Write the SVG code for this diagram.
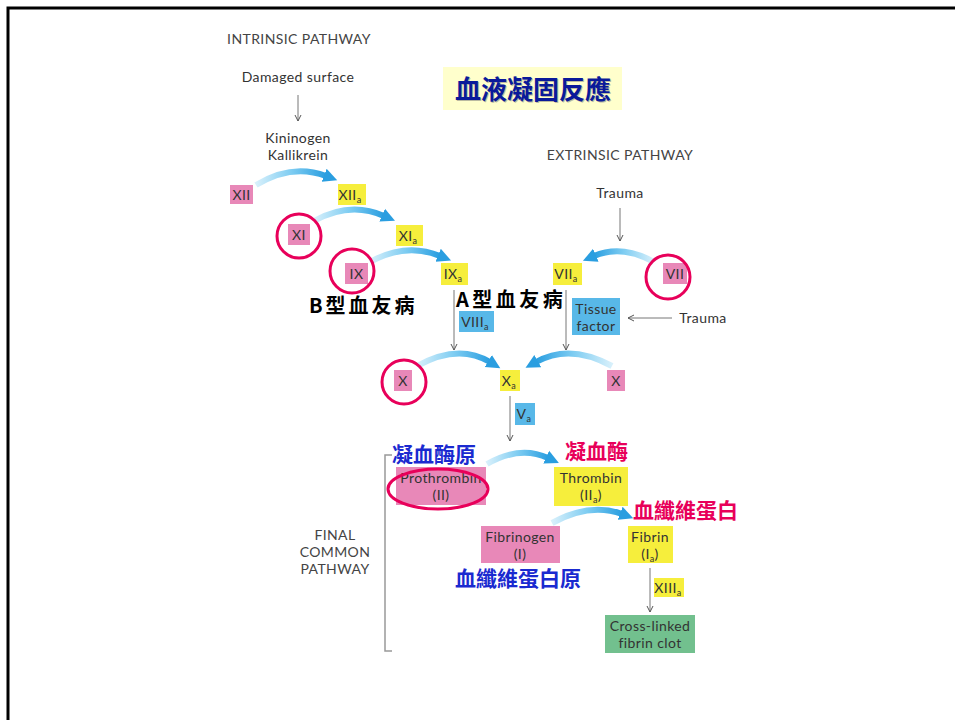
<svg xmlns="http://www.w3.org/2000/svg" width="955" height="720" viewBox="0 0 955 720">
<style>
.t{font-family:Lato,"Open Sans",sans-serif;font-size:14px;letter-spacing:0.4px;fill:#333;text-anchor:middle}
.h{font-family:Lato,"Open Sans",sans-serif;font-size:14px;letter-spacing:0.4px;fill:#444;text-anchor:middle}
.pk{fill:#e888b8}
.yl{fill:#f6ee3c}
.bl{fill:#58b8e8}
.gr{fill:#72c08e}
.ring{fill:none;stroke:#e8005a;stroke-width:3}
.ba{fill:none;stroke:url(#gR);stroke-width:6;marker-end:url(#bh)}
.bar{fill:none;stroke:url(#gL);stroke-width:6;marker-end:url(#bh)}
.ga{fill:none;stroke:#777;stroke-width:1;marker-end:url(#gh)}
.cjk{font-family:"Noto Sans CJK TC","Noto Sans CJK SC",sans-serif;font-weight:bold}
.sub{font-size:9px}
</style>
<defs>
<linearGradient id="gR" x1="0" y1="0" x2="1" y2="0"><stop offset="0" stop-color="#d8f0fb"/><stop offset="0.5" stop-color="#7fcdf2"/><stop offset="1" stop-color="#2a9ee0"/></linearGradient>
<linearGradient id="gL" x1="1" y1="0" x2="0" y2="0"><stop offset="0" stop-color="#d8f0fb"/><stop offset="0.5" stop-color="#7fcdf2"/><stop offset="1" stop-color="#2a9ee0"/></linearGradient>
<marker id="bh" markerUnits="userSpaceOnUse" markerWidth="16" markerHeight="16" refX="2" refY="8" orient="auto"><path d="M0,1 L14,8 L0,15 Z" fill="#2a9ee0"/></marker>
<marker id="gh" markerUnits="userSpaceOnUse" markerWidth="8" markerHeight="8" refX="6" refY="4" orient="auto"><path d="M0,1 L6,4 L0,7" fill="none" stroke="#555" stroke-width="1"/></marker>
</defs>
<rect width="955" height="720" fill="#fff"/>
<path d="M8,720 V8 H955" fill="none" stroke="#000" stroke-width="3"/>

<g id="connectors">
<path class="ba" d="M256,185 Q292,163 326,176"/>
<path class="ba" d="M314,221 Q350,201 384,216"/>
<path class="ba" d="M370,262 Q406,242 440,256"/>
<path class="bar" d="M654,262 Q622,244 594,256"/>
<path class="ba" d="M417,366 Q458,343 490,362"/>
<path class="bar" d="M612,366 Q570,343 536,362"/>
<path class="ba" d="M487,464 Q520,445 548,458"/>
<path class="ba" d="M552,523 Q590,502 622,514"/>
<line class="ga" x1="298" y1="95" x2="298" y2="121"/>
<line class="ga" x1="620" y1="208" x2="620" y2="241"/>
<line class="ga" x1="672" y1="318" x2="628" y2="318"/>
<line class="ga" x1="454" y1="290" x2="454" y2="350"/>
<line class="ga" x1="566" y1="290" x2="566" y2="350"/>
<line class="ga" x1="510" y1="396" x2="510" y2="441"/>
<line class="ga" x1="650" y1="568" x2="650" y2="612"/>
<path d="M392,455 H385 V651 H392" fill="none" stroke="#999" stroke-width="1.5"/>
</g>

<g id="labels">
<text class="h" x="299" y="44">INTRINSIC PATHWAY</text>
<text class="t" x="298" y="82">Damaged surface</text>
<text class="t" x="298" y="143">Kininogen</text>
<text class="t" x="298" y="160">Kallikrein</text>
<text class="h" x="620" y="160">EXTRINSIC PATHWAY</text>
<text class="t" x="620" y="198">Trauma</text>
<text class="t" x="703" y="323">Trauma</text>
<text class="h" x="335" y="540">FINAL</text>
<text class="h" x="335" y="557">COMMON</text>
<text class="h" x="335" y="574">PATHWAY</text>
</g>

<g id="title">
<rect x="443" y="67" width="179" height="43" fill="#ffffcc"/>
<text class="cjk" x="534" y="100" font-size="26" fill="#777" text-anchor="middle" opacity="0.5">血液凝固反應</text>
<text class="cjk" x="533" y="99" font-size="26" fill="#0a1a9a" text-anchor="middle">血液凝固反應</text>
</g>

<g id="XII"><rect class="pk" x="230" y="185" width="23" height="19"/><text class="t" x="241.5" y="200">XII</text></g>
<g id="XIIa"><rect class="yl" x="338" y="184" width="28" height="21"/><text class="t" x="350" y="200">XII<tspan class="sub" dy="3">a</tspan></text></g>
<g id="XI"><rect class="pk" x="288" y="224" width="22" height="21"/><text class="t" x="299" y="240">XI</text><circle class="ring" cx="299" cy="236" r="22"/></g>
<g id="XIa"><rect class="yl" x="396" y="225" width="27" height="21"/><text class="t" x="408" y="241">XI<tspan class="sub" dy="3">a</tspan></text></g>
<g id="IX"><rect class="pk" x="345" y="263" width="23" height="21"/><text class="t" x="356.5" y="279">IX</text><circle class="ring" cx="352" cy="271" r="22"/></g>
<g id="IXa"><rect class="yl" x="441" y="263" width="27" height="22"/><text class="t" x="453" y="279">IX<tspan class="sub" dy="3">a</tspan></text></g>
<g id="VIIa"><rect class="yl" x="553" y="263" width="29" height="22"/><text class="t" x="566" y="279">VII<tspan class="sub" dy="3">a</tspan></text></g>
<g id="VII"><rect class="pk" x="663" y="263" width="24" height="21"/><text class="t" x="675" y="279">VII</text><circle class="ring" cx="668" cy="277" r="22"/></g>
<g id="hemoB"><text class="cjk" x="309" y="313" font-size="20" fill="#000" letter-spacing="3">B型血友病</text></g>
<g id="hemoA"><text class="cjk" x="456" y="307" font-size="20" fill="#000" letter-spacing="3.5">A型血友病</text></g>
<g id="VIIIa"><rect class="bl" x="459" y="311" width="35" height="21"/><text class="t" x="475" y="327">VIII<tspan class="sub" dy="3">a</tspan></text></g>
<g id="TissueFactor"><rect class="bl" x="572" y="298" width="48" height="37"/><text class="t" x="596" y="314">Tissue</text><text class="t" x="596" y="331">factor</text></g>
<g id="X"><rect class="pk" x="394" y="370" width="18" height="21"/><text class="t" x="403" y="386">X</text><circle class="ring" cx="404" cy="382" r="22"/></g>
<g id="Xa"><rect class="yl" x="500" y="370" width="20" height="21"/><text class="t" x="509" y="386">X<tspan class="sub" dy="3">a</tspan></text></g>
<g id="X2"><rect class="pk" x="607" y="370" width="18" height="21"/><text class="t" x="616" y="386">X</text></g>
<g id="Va"><rect class="bl" x="515" y="403" width="20" height="22"/><text class="t" x="524" y="419">V<tspan class="sub" dy="3">a</tspan></text></g>
<g id="Prothrombin"><rect class="pk" x="396" y="467" width="90" height="38"/><text class="t" x="441" y="483">Prothrombin</text><text class="t" x="441" y="500">(II)</text><ellipse class="ring" cx="438" cy="489" rx="50" ry="20"/>
<text class="cjk" x="392" y="462" font-size="21" fill="#1a2ad0">凝血酶原</text></g>
<g id="Thrombin"><rect class="yl" x="554" y="467" width="74" height="39"/><text class="t" x="591" y="483">Thrombin</text><text class="t" x="591" y="500">(II<tspan class="sub" dy="3">a</tspan><tspan dy="-3">)</tspan></text>
<text class="cjk" x="565" y="459" font-size="21" fill="#e8005a">凝血酶</text></g>
<g id="Fibrinogen"><rect class="pk" x="481" y="526" width="79" height="37"/><text class="t" x="520" y="542">Fibrinogen</text><text class="t" x="520" y="559">(I)</text>
<text class="cjk" x="455" y="586" font-size="21" fill="#1a2ad0">血纖維蛋白原</text></g>
<g id="Fibrin"><rect class="yl" x="628" y="526" width="45" height="37"/><text class="t" x="650" y="542">Fibrin</text><text class="t" x="650" y="559">(I<tspan class="sub" dy="3">a</tspan><tspan dy="-3">)</tspan></text>
<text class="cjk" x="633" y="518" font-size="21" fill="#e8005a">血纖維蛋白</text></g>
<g id="XIIIa"><rect class="yl" x="654" y="578" width="30" height="19"/><text class="t" x="668" y="593">XIII<tspan class="sub" dy="3">a</tspan></text></g>
<g id="Clot"><rect class="gr" x="605" y="615" width="90" height="38"/><text class="t" x="650" y="631">Cross-linked</text><text class="t" x="650" y="648">fibrin clot</text></g>
</svg>
